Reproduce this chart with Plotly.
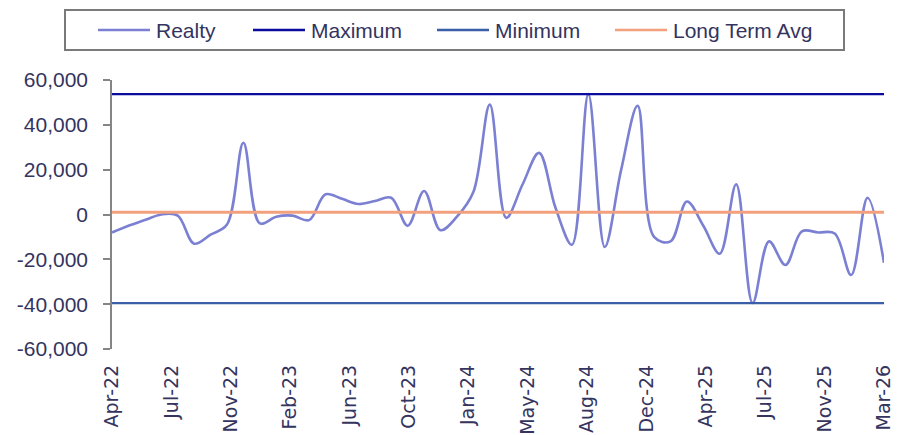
import numpy as np
import plotly.graph_objects as go

# ---------------- data ----------------
months = ["Apr-22", "May-22", "Jun-22", "Jul-22", "Aug-22", "Sep-22", "Oct-22", "Nov-22",
          "Dec-22", "Jan-23", "Feb-23", "Mar-23", "Apr-23", "May-23", "Jun-23", "Jul-23",
          "Aug-23", "Sep-23", "Oct-23", "Nov-23", "Dec-23", "Jan-24", "Feb-24", "Mar-24",
          "Apr-24", "May-24", "Jun-24", "Jul-24", "Aug-24", "Sep-24", "Oct-24", "Nov-24",
          "Dec-24", "Jan-25", "Feb-25", "Mar-25", "Apr-25", "May-25", "Jun-25", "Jul-25",
          "Aug-25", "Sep-25", "Oct-25", "Nov-25", "Dec-25", "Jan-26", "Feb-26", "Mar-26"]
realty = [-8000, -5000, -2500, 0, -500, -13000, -9000, -4500,
          32000, -4000, -1000, -500, -2500, 9000, 7000, 4700,
          6000, 7500, -5000, 10500, -7000, -1000, 10000, 49000,
          -1500, 13500, 27500, 3000, -13500, 53700, -14500, 20000,
          48500, -10000, -12000, 5800, -5000, -17500, 13500, -39500,
          -12000, -22500, -7500, -8000, -8500, -27000, 7500, -21500]
long_term_avg = 1000
tick_labels = ["Apr-22", "Jul-22", "Nov-22", "Feb-23", "Jun-23", "Oct-23", "Jan-24",
               "May-24", "Aug-24", "Dec-24", "Apr-25", "Jul-25", "Nov-25", "Mar-26"]
y_ticks = [60000, 40000, 20000, 0, -20000, -40000, -60000]
y_tick_text = ["60,000", "40,000", "20,000", "0", "-20,000", "-40,000", "-60,000"]

series_names = ["Realty", "Maximum", "Minimum", "Long Term Avg"]
colors = ["#7B80D3", "#0B0B9E", "#3A5EA8", "#F2A07D"]

# ---------------- figure ----------------
OFF = 8  # page body margin
W, H = 901 - OFF, 435 - OFF
ML, MT = 112 - OFF, 80 - OFF
MR = W - (884 - OFF)
MB = H - (349 - OFF)
PW, PH = W - ML - MR, H - MT - MB
FONT = "Liberation Sans"
TXT = "#34345E"
GREY = "#858585"

x = np.arange(len(realty))
n = len(realty)
vmax, vmin = max(realty), min(realty)

fig = go.Figure()
fig.add_trace(go.Scatter(x=x, y=realty, mode="lines", name=series_names[0],
                         line=dict(color=colors[0], width=2.6, shape="spline", smoothing=1.0)))
fig.add_trace(go.Scatter(x=x, y=[vmax] * n, mode="lines", name=series_names[1],
                         line=dict(color=colors[1], width=2.2)))
fig.add_trace(go.Scatter(x=x, y=[vmin] * n, mode="lines", name=series_names[2],
                         line=dict(color=colors[2], width=2.2)))
fig.add_trace(go.Scatter(x=x, y=[long_term_avg] * n, mode="lines", name=series_names[3],
                         line=dict(color=colors[3], width=3)))

tickvals = np.linspace(0, n - 1, len(tick_labels))


def px_x(p):
    return (p - OFF - ML) / PW


def px_y(p):
    return (H - MB - (p - OFF)) / PH


shapes = []
annotations = []
# legend box
shapes.append(dict(type="rect", xref="paper", yref="paper",
                   x0=px_x(65), x1=px_x(844), y0=px_y(50), y1=px_y(10),
                   line=dict(color="#7A7A7A", width=2), fillcolor="white", layer="above"))
leg_x = [98, 253, 437, 615]
for i, name in enumerate(series_names):
    shapes.append(dict(type="line", xref="paper", yref="paper",
                       x0=px_x(leg_x[i]), x1=px_x(leg_x[i] + 52),
                       y0=px_y(30), y1=px_y(30),
                       line=dict(color=colors[i], width=2.5), layer="above"))
    annotations.append(dict(xref="paper", yref="paper", x=px_x(leg_x[i] + 56), y=px_y(30),
                            text=name, showarrow=False, xanchor="left", yanchor="middle",
                            font=dict(family=FONT, size=21, color=TXT)))

fig.update_layout(
    width=W, height=H,
    margin=dict(l=ML, r=MR, t=MT, b=MB, pad=0, autoexpand=False),
    paper_bgcolor="white", plot_bgcolor="white",
    showlegend=False,
    shapes=shapes, annotations=annotations,
    xaxis=dict(range=[0, n - 1], tickvals=tickvals, ticktext=tick_labels,
               tickangle=-90, showgrid=False, zeroline=False, showline=False,
               ticks="", ticklabelstandoff=11, automargin=False,
               tickfont=dict(family="DejaVu Sans", size=19, color=TXT)),
    xaxis2=dict(range=[0, n - 1], overlaying="x", anchor="free", position=0.5,
                tickvals=tickvals, showticklabels=False, showgrid=False, zeroline=False,
                showline=True, linecolor=GREY, linewidth=2.5, ticks="outside",
                ticklen=6, tickwidth=2, tickcolor=GREY, layer="below traces",
                automargin=False),
    yaxis=dict(range=[-60000, 60000], tickvals=y_ticks, ticktext=y_tick_text,
               showgrid=False, zeroline=False, showline=True, linecolor=GREY,
               linewidth=1.5, ticks="outside", ticklen=7, tickwidth=1.5, tickcolor=GREY,
               ticklabelstandoff=11, automargin=False,
               tickfont=dict(family=FONT, size=21, color=TXT)),
)

fig.write_html("out.html")
